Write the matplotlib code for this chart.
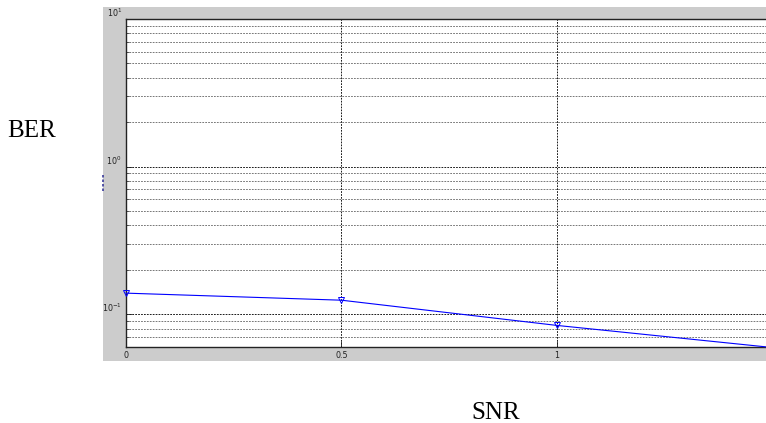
import matplotlib
matplotlib.use("Agg")
import matplotlib.pyplot as plt
from matplotlib.patches import Rectangle
from matplotlib.lines import Line2D
from matplotlib.ticker import LogLocator, FixedLocator, NullFormatter

# data (MATLAB screenshot, cropped on the right)
snr = [0.0, 0.5, 1.0, 1.5]
ber = [0.139, 0.1245, 0.084, 0.0595]
xticks = [0, 0.5, 1]
xticklabels = ["0", "0.5", "1"]
yticks = [0.1, 1, 10]
yticklabels = [r"$10^{-1}$", r"$10^{0}$", r"$10^{1}$"]

W, H = 766, 423
fig = plt.figure(figsize=(W / 100, H / 100), dpi=100)
fig.patch.set_facecolor("white")

# gray MATLAB figure area
fig.patches.append(Rectangle((103 / W, 1 - 361 / H), 663 / W, 354 / H,
                             transform=fig.transFigure, facecolor="#cccccc",
                             edgecolor="none", zorder=-5))
# cropped remnant of the original y label
fig.lines.append(Line2D([103 / W, 103 / W], [1 - 175 / H, 1 - 192 / H],
                        transform=fig.transFigure, color="#3a3a9a", lw=1.2,
                        ls=(0, (1.5, 1.2)), zorder=-4))

ax = fig.add_axes([126 / W, 1 - 347 / H, 640 / W, 328 / H])
ax.set_zorder(2)
ax.set_facecolor("white")
ax.plot(snr, ber, color="#0000ff", lw=0.8, marker="v", ms=4,
        mfc="none", mec="#0000ff", mew=0.7, clip_on=False, zorder=3)

ax.set_yscale("log")
ax.set_xlim(0, 1.485)
ax.set_ylim(0.06, 10)

ax.xaxis.set_major_locator(FixedLocator(xticks))
ax.set_xticklabels(xticklabels, fontsize=5.8)
ax.yaxis.set_major_locator(FixedLocator(yticks))
ax.set_yticklabels(yticklabels, fontsize=5.8)
ax.yaxis.set_minor_locator(LogLocator(base=10, subs=range(2, 10)))
ax.yaxis.set_minor_formatter(NullFormatter())

ax.tick_params(axis="both", which="major", direction="in", length=4,
               width=0.6, pad=3, colors="#222222")
ax.tick_params(axis="y", which="minor", direction="in", length=2.5,
               width=0.6, colors="#444444")
for lab in ax.get_yticklabels():
    lab.set_verticalalignment("bottom")

ax.grid(True, which="major", color="#1a1a1a", lw=0.7, ls=(0, (1.8, 1.2)))
ax.grid(True, which="minor", axis="y", color="#777777", lw=0.7, ls=(0, (1.8, 1.2)))

for side in ["left", "top", "bottom"]:
    ax.spines[side].set_color("#222222")
    ax.spines[side].set_linewidth(1.0)
ax.spines["right"].set_visible(False)

fig.text(32 / W, 1 - 131 / H, "BER", family="Liberation Serif", fontsize=18,
         ha="center", va="center")
fig.text(496 / W, 1 - 413 / H, "SNR", family="Liberation Serif", fontsize=18,
         ha="center", va="center")

fig.savefig("out.png", dpi=100)
